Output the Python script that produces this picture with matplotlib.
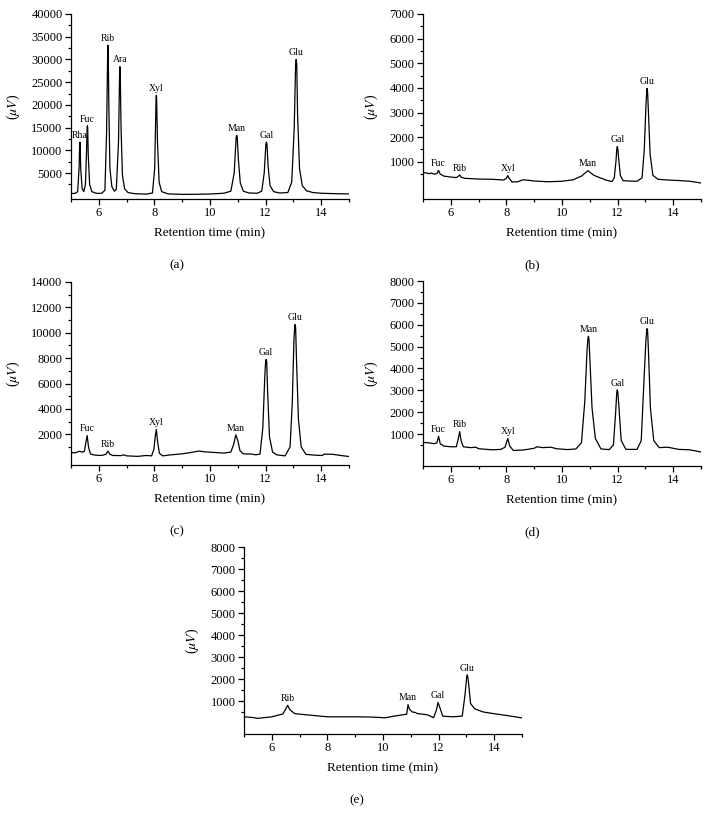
import matplotlib
matplotlib.use("Agg")
import matplotlib.pyplot as plt
from matplotlib.ticker import FixedLocator

plt.rcParams['font.family'] = ['Liberation Serif', 'DejaVu Serif']
plt.rcParams['mathtext.fontset'] = 'stix'

# ---------------- data ----------------
# Panel (a): standard mixture
a_t = [5.0, 5.15, 5.24, 5.29, 5.31, 5.32, 5.33, 5.35, 5.40, 5.46, 5.52, 5.56, 5.58, 5.59, 5.60, 5.62,
       5.67, 5.75, 5.9, 6.1, 6.22, 6.28, 6.32, 6.33, 6.34, 6.36, 6.40, 6.47, 6.56, 6.63, 6.71, 6.75,
       6.76, 6.77, 6.80, 6.85, 6.93, 7.05, 7.3, 7.7, 7.93, 8.01, 8.06, 8.07, 8.08, 8.11, 8.17, 8.26,
       8.5, 9.0, 9.5, 10.0, 10.5, 10.75, 10.87, 10.94, 10.96, 10.98, 11.02, 11.09, 11.2, 11.4, 11.7,
       11.86, 11.95, 12.01, 12.03, 12.05, 12.09, 12.16, 12.29, 12.5, 12.8, 12.94, 13.03, 13.08, 13.10,
       13.12, 13.15, 13.22, 13.32, 13.47, 13.7, 14.0, 14.5, 15.0]
a_v = [500, 520, 900, 6000, 11000, 11800, 11000, 6000, 1600, 900, 2500, 10000, 15000, 15400, 15000,
       9000, 2500, 900, 550, 520, 1200, 14000, 32000, 33100, 32000, 20000, 6000, 2000, 1000, 1400,
       12000, 27500, 28400, 27500, 15000, 4500, 1500, 700, 450, 350, 600, 6000, 21300, 22100, 21300,
       12000, 3000, 900, 400, 300, 320, 380, 550, 1000, 5000, 12800, 13300, 12800, 8000, 2800, 1000,
       600, 550, 1000, 5000, 11300, 11800, 11300, 6500, 2200, 900, 600, 700, 3000, 15000, 29000,
       30000, 29000, 18000, 6000, 2200, 1100, 700, 550, 450, 400]
a_peaks = ['Rha', 'Fuc', 'Rib', 'Ara', 'Xyl', 'Man', 'Gal', 'Glu']
a_peak_t = [5.32, 5.59, 6.33, 6.76, 8.07, 10.96, 12.03, 13.10]
a_peak_v = [11800, 15400, 33100, 28400, 22100, 13300, 11800, 30000]

# Panel (b)
b_t = [5.0, 5.1, 5.2, 5.3, 5.4, 5.5, 5.56, 5.62, 5.75, 6.0, 6.2, 6.28, 6.32, 6.37, 6.5, 7.0, 7.5,
       7.9, 8.0, 8.05, 8.1, 8.2, 8.4, 8.6, 8.8, 9.0, 9.5, 10.0, 10.4, 10.7, 10.85, 10.94, 11.02,
       11.15, 11.35, 11.6, 11.8, 11.88, 11.94, 11.97, 11.99, 12.01, 12.04, 12.1, 12.2, 12.4, 12.7,
       12.88, 12.96, 13.02, 13.05, 13.06, 13.08, 13.11, 13.17, 13.27, 13.45, 13.8, 14.2, 14.6, 15.0]
b_v = [540, 560, 520, 540, 500, 520, 650, 500, 420, 380, 360, 420, 470, 380, 330, 300, 290,
       260, 330, 440, 330, 180, 190, 270, 250, 220, 190, 210, 270, 420, 560, 640, 560,
       450, 360, 250, 200, 350, 1000, 1500, 1620, 1500, 1100, 450, 230, 220, 210,
       350, 1500, 3300, 3900, 3980, 3800, 3000, 1300, 450, 290, 260, 240, 210, 140]
b_peaks = ['Fuc', 'Rib', 'Xyl', 'Man', 'Gal', 'Glu']
b_peak_t = [5.56, 6.32, 8.05, 10.94, 11.99, 13.06]
b_peak_v = [650, 470, 440, 640, 1620, 3980]

# Panel (c)
c_t = [5.0, 5.15, 5.3, 5.4, 5.48, 5.53, 5.58, 5.63, 5.7, 5.85, 6.1, 6.25, 6.33, 6.4, 6.5, 6.8, 6.9,
       7.0, 7.4, 7.7, 7.9, 7.98, 8.04, 8.07, 8.11, 8.18, 8.3, 8.6, 9.0, 9.3, 9.6, 9.8, 10.2, 10.5,
       10.75, 10.85, 10.93, 11.0, 11.08, 11.2, 11.5, 11.65, 11.8, 11.9, 11.97, 12.0, 12.02, 12.04,
       12.07, 12.14, 12.25, 12.4, 12.7, 12.88, 12.96, 13.02, 13.05, 13.06, 13.08, 13.11, 13.18,
       13.28, 13.45, 13.8, 14.05, 14.1, 14.4, 14.7, 15.0]
c_v = [560, 540, 660, 600, 650, 1300, 1900, 1000, 450, 360, 330, 420, 680, 420, 330, 320, 380,
       300, 260, 330, 300, 800, 2000, 2380, 1500, 500, 300, 380, 460, 560, 680, 620, 560, 520,
       600, 1200, 1960, 1500, 700, 460, 440, 380, 450, 2500, 6500, 7700, 7900, 7700,
       5500, 1800, 600, 380, 300, 1000, 4500, 9500, 10500, 10650, 10400, 8000, 3200,
       1000, 420, 350, 330, 430, 430, 330, 250]
c_peaks = ['Fuc', 'Rib', 'Xyl', 'Man', 'Gal', 'Glu']
c_peak_t = [5.58, 6.33, 8.07, 10.93, 12.02, 13.06]
c_peak_v = [1900, 680, 2380, 1960, 7900, 10650]

# Panel (d)
d_t = [5.0, 5.2, 5.4, 5.5, 5.56, 5.62, 5.75, 6.0, 6.2, 6.27, 6.32, 6.37, 6.45, 6.7, 6.9, 7.0, 7.5,
       7.8, 7.95, 8.05, 8.12, 8.25, 8.6, 9.0, 9.1, 9.3, 9.6, 9.8, 10.2, 10.5, 10.7, 10.82, 10.9,
       10.93, 10.95, 10.97, 11.0, 11.08, 11.2, 11.4, 11.7, 11.85, 11.93, 11.97, 11.99, 12.01, 12.05,
       12.13, 12.3, 12.7, 12.85, 12.95, 13.02, 13.05, 13.06, 13.08, 13.11, 13.18, 13.3, 13.5, 13.8,
       14.2, 14.6, 15.0]
d_v = [620, 600, 560, 600, 900, 560, 450, 420, 420, 800, 1110, 700, 420, 380, 400, 330, 280,
       300, 400, 800, 450, 250, 270, 350, 420, 380, 400, 330, 290, 320, 600, 2500, 4800,
       5350, 5470, 5350, 4500, 2200, 800, 320, 290, 500, 2000, 2900, 3020, 2900, 2200,
       700, 300, 300, 700, 3500, 5300, 5750, 5820, 5700, 4800, 2200, 700, 380, 400,
       300, 280, 180]
d_peaks = ['Fuc', 'Rib', 'Xyl', 'Man', 'Gal', 'Glu']
d_peak_t = [5.56, 6.32, 8.05, 10.95, 11.99, 13.06]
d_peak_v = [900, 1110, 800, 5470, 3020, 5820]

# Panel (e)
e_t = [5.0, 5.3, 5.5, 6.0, 6.4, 6.5, 6.57, 6.65, 6.75, 6.82, 7.0, 7.5, 8.0, 9.0, 9.5, 9.9, 10.05,
       10.4, 10.85, 10.9, 10.95, 11.05, 11.15, 11.25, 11.35, 11.6, 11.82, 11.92, 11.98, 12.05,
       12.15, 12.5, 12.85, 12.95, 13.01, 13.03, 13.05, 13.08, 13.15, 13.3, 13.6, 14.0, 14.5, 15.0]
e_v = [300, 270, 230, 300, 430, 650, 820, 620, 520, 450, 420, 360, 300, 300, 290, 270, 250,
       330, 420, 850, 650, 520, 500, 440, 430, 390, 260, 600, 950, 700,
       330, 300, 330, 1300, 2100, 2200, 2100, 1800, 900, 660, 520, 440, 350, 250]
e_peaks = ['Rib', 'Man', 'Gal', 'Glu']
e_peak_t = [6.57, 10.9, 11.98, 13.03]
e_peak_v = [820, 850, 950, 2200]

# ---------------- layout ----------------
W, H = 709, 821
fig = plt.figure(figsize=(W / 100, H / 100), dpi=100)

def axes_px(left, right, top, bottom):
    return fig.add_axes([left / W, 1 - bottom / H, (right - left) / W, (bottom - top) / H])

panels = [
    (a_t, a_v, a_peaks, a_peak_t, a_peak_v, -720, 40000, 5000, (71, 349, 14, 199), '(a)', 177),
    (b_t, b_v, b_peaks, b_peak_t, b_peak_v, -510, 7000, 1000, (423, 701, 14, 199), '(b)', 532),
    (c_t, c_v, c_peaks, c_peak_t, c_peak_v, -420, 14000, 2000, (71, 349, 282, 465), '(c)', 177),
    (d_t, d_v, d_peaks, d_peak_t, d_peak_v, -460, 8000, 1000, (423, 701, 281, 466), '(d)', 532),
    (e_t, e_v, e_peaks, e_peak_t, e_peak_v, -480, 8000, 1000, (244, 522, 547, 734), '(e)', 357),
]

for t, v, names, pt, pv, ymin, ymax, major, box, letter, lx in panels:
    ax = axes_px(*box)
    ax.plot(t, v, color='black', lw=0.9)
    ax.set_xlim(5, 15)
    ax.set_ylim(ymin, ymax)
    for s in ('top', 'right'):
        ax.spines[s].set_visible(False)
    for s in ('left', 'bottom'):
        ax.spines[s].set_linewidth(0.9)
    ax.xaxis.set_major_locator(FixedLocator([6, 8, 10, 12, 14]))
    ax.xaxis.set_minor_locator(FixedLocator([5, 7, 9, 11, 13, 15]))
    ax.yaxis.set_major_locator(FixedLocator(list(range(major, ymax + 1, major))))
    ax.yaxis.set_minor_locator(FixedLocator([major * k / 2 for k in range(1, 2 * ymax // major + 1, 2)]))
    ax.tick_params(which='major', direction='out', length=4, width=0.9, labelsize=9, pad=2)
    ax.tick_params(which='minor', direction='out', length=2.5, width=0.9)
    ax.set_xlabel('Retention time (min)', fontsize=9.5, labelpad=6)
    ax.set_ylabel(r'($\mu V$)', fontsize=10, labelpad=7)
    span = ymax - ymin
    for n, x0, y0 in zip(names, pt, pv):
        ax.text(x0, y0 + span * 0.012, n, ha='center', va='bottom', fontsize=7)
    top_y = box[3] + 66
    fig.text(lx / W, 1 - top_y / H, letter, ha='center', va='center', fontsize=9.5)

fig.savefig('out.png', dpi=100)
